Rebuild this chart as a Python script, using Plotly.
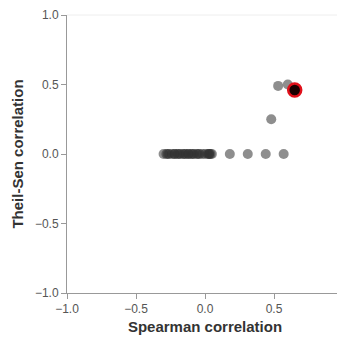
import plotly.graph_objects as go

# Data
spearman = [-0.30, -0.28, -0.26, -0.24, -0.22, -0.20, -0.18, -0.16, -0.14, -0.12, -0.10,
            -0.08, -0.06, -0.04, -0.02, 0.0, 0.02, 0.03, 0.05, -0.22, -0.15, -0.09, 0.03,
            -0.27, -0.19, -0.12, -0.05, 0.04,
            0.18, 0.31, 0.44, 0.57, 0.48, 0.53, 0.60]
theilsen = [0.0] * 32 + [0.25, 0.49, 0.50]
highlight_x = [0.65]
highlight_y = [0.46]

fig = go.Figure()
fig.add_trace(go.Scatter(
    x=spearman, y=theilsen, mode="markers",
    marker=dict(size=10, color="rgba(50,50,50,0.55)", line=dict(width=0)),
    showlegend=False, hoverinfo="skip"))
fig.add_trace(go.Scatter(
    x=highlight_x, y=highlight_y, mode="markers",
    marker=dict(size=13, color="#1a0000", line=dict(width=2.5, color="#e0101a")),
    showlegend=False, hoverinfo="skip"))

axis_common = dict(
    range=[-1, 1], tickvals=[-1, -0.5, 0, 0.5, 1], tickformat=".1f",
    showgrid=False, zeroline=False, showline=True, linecolor="#999999", linewidth=1,
    ticks="outside", ticklen=5, tickcolor="#999999", automargin=False,
    tickfont=dict(family="Liberation Sans, Arial", size=12, color="#555555"),
)
title_font = dict(family="Liberation Sans, Arial", size=15, color="#333333")
fig.update_layout(
    width=337, height=330,
    margin=dict(l=59, r=2, t=7, b=45),
    paper_bgcolor="white", plot_bgcolor="white",
    xaxis=dict(**axis_common,
               title=dict(text="<b>Spearman correlation</b>", standoff=6, font=title_font)),
    yaxis=dict(**axis_common,
               title=dict(text="<b>Theil-Sen correlation</b>", standoff=7, font=title_font)),
    shapes=[
        dict(type="line", xref="paper", yref="paper", x0=0, x1=1, y0=1, y1=1,
             line=dict(color="#eeeeee", width=1)),
        dict(type="line", xref="paper", yref="paper", x0=1, x1=1, y0=0, y1=1,
             line=dict(color="#eeeeee", width=1)),
    ],
)
fig.write_html("out.html")
